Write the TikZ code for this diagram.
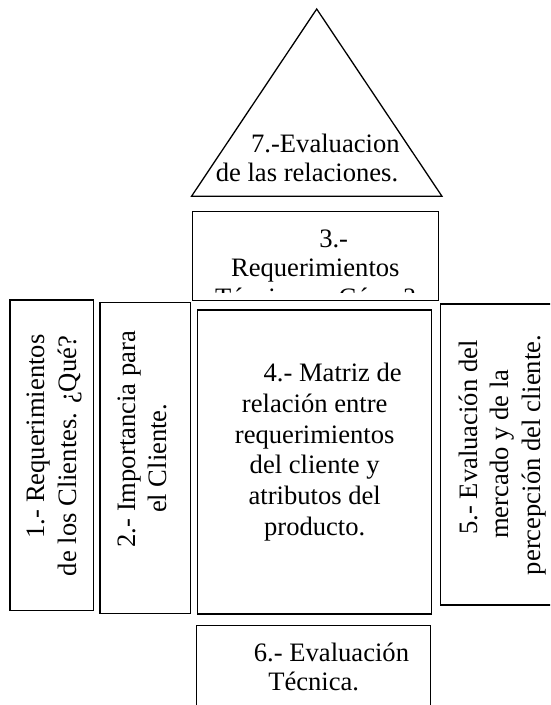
\documentclass[tikz,border=0pt]{standalone}
\usepackage{fontspec}
\setmainfont{Liberation Serif}
\tikzset{
  outl/.style={draw=black, line width=1.3pt},
  txt/.style={font=\fontsize{26.6pt}{30pt}\selectfont, inner sep=0pt, anchor=base},
  vtxt/.style={txt, rotate=90},
}
\begin{document}
\begin{tikzpicture}[x=1pt,y=-1pt]
\useasboundingbox (0,0) rectangle (550,705);
\clip (0,0) rectangle (550,705);
% 7 - triangle (roof)
\draw[outl, line join=miter] (316.7,9) -- (442,196.3) -- (191.5,196.3) -- cycle;
\node[txt] (t7a) at (325.4,152.3) {7.-Evaluacion};
\node[txt] (t7b) at (307,181.7) {de las relaciones.};
% 3 - technical requirements
\draw[outl] (192.3,211.3) rectangle (438.3,300.5);
\node[txt] (t3a) at (333.7,247.3) {3.-};
\node[txt] (t3b) at (315.3,276.7) {Requerimientos};
\begin{scope}
  \clip (193,212) rectangle (437,292);
  \node[txt] (t3c) at (315.3,306.3) {Técnicos. ¿Cómo?};
\end{scope}
% 1 - customer requirements
\draw[outl] (10,300) rectangle (93.3,610.7);
\node[vtxt] (t1a) at (44.5,436.5) {1.- Requerimientos};
\node[vtxt] (t1b) at (76,456) {de los Clientes. ¿Qué?};
% 2 - importance
\draw[outl] (100,302.7) rectangle (190.7,613.3);
\node[vtxt] (t2a) at (135.2,439.2) {2.- Importancia para};
\node[vtxt] (t2b) at (166.7,458.3) {el Cliente.};
% 4 - matrix
\draw[outl] (197.7,310) rectangle (431.7,614);
\node[txt] (t4a) at (332.7,381.7) {4.- Matriz de};
\node[txt] (t4b) at (314.7,412.4) {relación entre};
\node[txt] (t4c) at (314.7,443.0) {requerimientos};
\node[txt] (t4d) at (314.7,473.7) {del cliente y};
\node[txt] (t4e) at (314.7,504.3) {atributos del};
\node[txt] (t4f) at (314.7,535.0) {producto.};
% 5 - market evaluation
\draw[outl] (440.7,304) rectangle (560,605);
\node[vtxt] (t5a) at (477,437.5) {5.- Evaluación del};
\node[vtxt] (t5b) at (508.5,454.2) {mercado y de la};
\node[vtxt] (t5c) at (540,455) {percepción del cliente.};
% 6 - technical evaluation
\draw[outl] (196.5,625.5) rectangle (430.7,720);
\node[txt] (t6a) at (331.5,661.7) {6.- Evaluación};
\node[txt] (t6b) at (313.7,690) {Técnica.};
\end{tikzpicture}
\end{document}
